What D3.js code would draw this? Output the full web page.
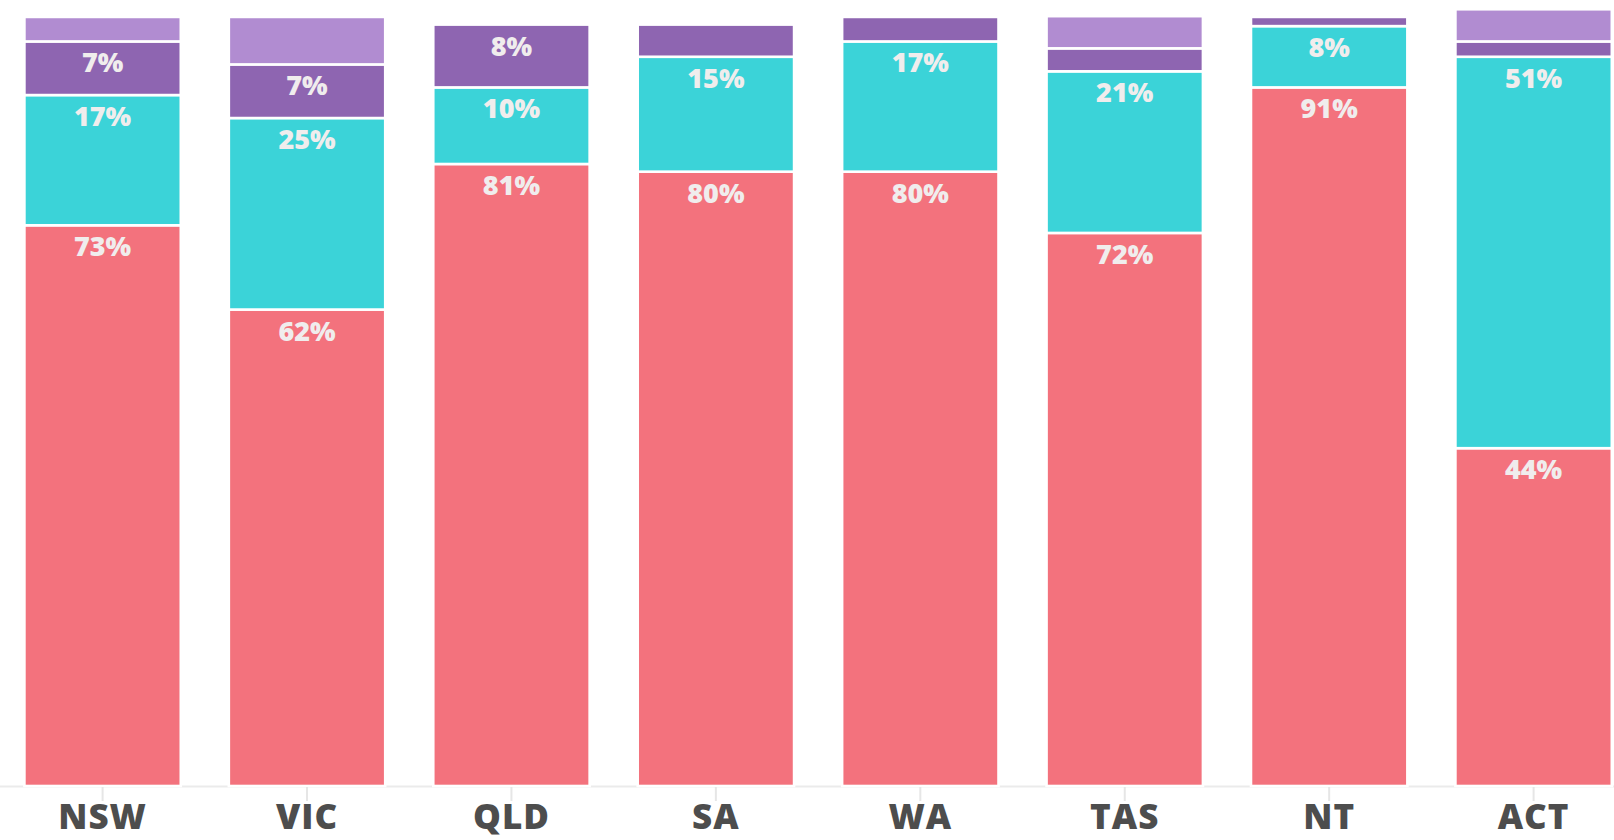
<!DOCTYPE html>
<html>
<head>
<meta charset="utf-8">
<script src="https://cdn.jsdelivr.net/npm/d3@7"></script>
<style>
  body { margin: 0; background: #fff; }
  svg { display: block; font-family: "Open Sans", "DejaVu Sans", sans-serif; }
</style>
</head>
<body>
<script>
// states and the four shares (percent) per state, bottom to top
const states = ["NSW", "VIC", "QLD", "SA", "WA", "TAS", "NT", "ACT"];
const shareRed = [73.2, 62.2, 81.2, 80.2, 80.2, 72.2, 91.2, 44.1];
const shareCyan = [17.0, 25.0, 10.0, 15.0, 17.0, 21.1, 8.0, 51.1];
const shareDark = [7.0, 7.0, 8.2, 4.2, 3.2, 3.0, 1.2, 2.0];
const shareLight = [3.2, 6.2, 0, 0, 0, 4.2, 0, 4.2];

const keys = ["red", "cyan", "dark", "light"];
const colors = { red: "#f3727d", cyan: "#3bd3d8", dark: "#8e65b1", light: "#b18cd1" };

const rows = states.map((s, i) => ({
    state: s,
    red: shareRed[i],
    cyan: shareCyan[i],
    dark: shareDark[i],
    light: shareLight[i]
}));

const width = 1614;
const height = 840;

const svg = d3.select("body")
    .append("svg")
    .attr("width", width)
    .attr("height", height);

const x = d3.scaleBand()
    .domain(states)
    .range([24.4, 1611.8])
    .paddingInner(0.235)
    .paddingOuter(0);

const y = d3.scaleLinear()
    .domain([0, 100])
    .range([786, 20]);

const series = d3.stack().keys(keys)(rows);

// baseline across the full width
svg.append("line")
    .attr("x1", 0)
    .attr("x2", width)
    .attr("y1", y(0) + 0.5)
    .attr("y2", y(0) + 0.5)
    .attr("stroke", "#ebebeb")
    .attr("stroke-width", 2);

const layers = svg.selectAll("g.layer")
    .data(series)
    .enter()
    .append("g")
    .attr("class", "layer")
    .attr("fill", d => colors[d.key]);

layers.selectAll("rect")
    .data(d => d.filter(p => p[1] - p[0] > 0))
    .enter()
    .append("rect")
    .attr("x", d => x(d.data.state))
    .attr("width", x.bandwidth())
    .attr("y", d => y(d[1]))
    .attr("height", d => y(d[0]) - y(d[1]))
    .attr("stroke", "#fff")
    .attr("stroke-width", 2.6);

layers.selectAll("text")
    .data(d => d.filter(p => p[1] - p[0] >= 6.5))
    .enter()
    .append("text")
    .attr("x", d => x(d.data.state) + x.bandwidth() / 2)
    .attr("y", d => y(d[1]) + 31)
    .attr("text-anchor", "middle")
    .attr("fill", "#f0eded")
    .style("font-size", "27px")
    .style("font-weight", 800)
    .text(d => Math.round(d[1] - d[0]) + "%");

const axis = svg.append("g")
    .attr("transform", "translate(0," + (y(0) + 1) + ")")
    .call(d3.axisBottom(x).tickSize(14).tickPadding(3));

axis.select(".domain").remove();
axis.selectAll(".tick line")
    .attr("stroke", "#e6e6e6")
    .attr("stroke-width", 2);
axis.selectAll(".tick text")
    .attr("fill", "#4d4d4d")
    .style("font-family", "'Open Sans', sans-serif")
    .style("font-size", "35px")
    .style("font-weight", 800)
    .style("letter-spacing", "1px");
</script>
</body>
</html>
